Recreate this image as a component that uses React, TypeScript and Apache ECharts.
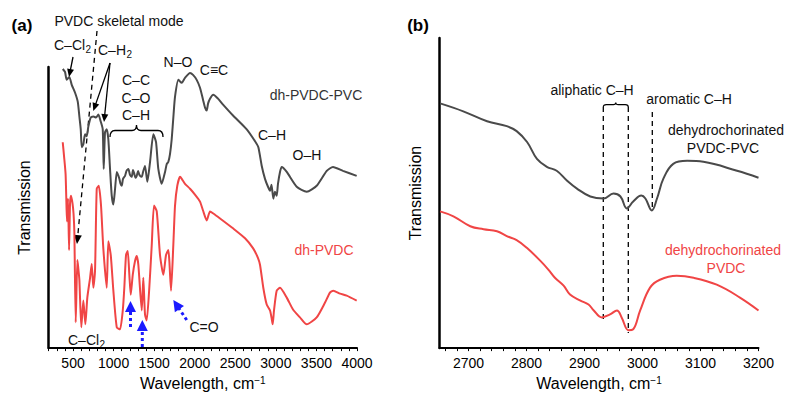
import React, { useEffect, useRef } from 'react';
import * as echarts from 'echarts';

const FONT = '"Liberation Sans", Arial, Helvetica, sans-serif';
const GRAY = '#4a4a4a';
const RED = '#f04545';
const BLUE = '#1a1aff';

// ---------- Panel (a): full spectrum ----------
const waveA_pvc = [373, 401, 422, 454, 484, 525, 558, 578, 595, 607, 627, 648, 669, 689, 718, 750, 783, 812, 841, 866, 878, 894, 915, 935, 956, 977, 997, 1018, 1039, 1055, 1071, 1085, 1100, 1116, 1141, 1159, 1182, 1202, 1223, 1239, 1252, 1270, 1285, 1301, 1313, 1326, 1347, 1363, 1387, 1416, 1449, 1490, 1523, 1551, 1593, 1634, 1655, 1674, 1695, 1716, 1739, 1757, 1798, 1840, 1880, 1942, 1979, 2024, 2065, 2102, 2127, 2148, 2164, 2188, 2229, 2287, 2349, 2472, 2641, 2743, 2784, 2826, 2866, 2903, 2928, 2946, 2969, 2989, 3010, 3026, 3051, 3072, 3134, 3257, 3380, 3503, 3627, 3704, 3827, 3996];
const transA_pvc = [282, 279, 271, 274, 266, 258, 249, 234, 221, 203, 206, 216, 214, 224, 233, 234, 233, 236, 229, 221, 181, 218, 221, 211, 181, 154, 145, 161, 178, 175, 171, 166, 164, 171, 174, 179, 181, 175, 173, 180, 177, 172, 174, 179, 176, 174, 173, 178, 184, 168, 188, 216, 208, 181, 166, 178, 186, 188, 196, 211, 236, 254, 271, 268, 273, 278, 276, 271, 263, 251, 243, 240, 247, 252, 256, 252, 246, 235, 221, 209, 203, 184, 171, 163, 159, 165, 151, 158, 154, 166, 178, 183, 178, 163, 158, 164, 179, 183, 179, 174];

const waveA_pvdc = [373, 389, 408, 420, 426, 438, 451, 463, 475, 494, 506, 516, 533, 553, 562, 578, 602, 627, 652, 676, 710, 730, 750, 771, 792, 817, 845, 873, 915, 935, 965, 997, 1039, 1079, 1113, 1132, 1153, 1174, 1194, 1211, 1236, 1264, 1285, 1305, 1347, 1366, 1387, 1408, 1440, 1470, 1498, 1532, 1572, 1613, 1646, 1674, 1687, 1708, 1736, 1757, 1785, 1819, 1840, 1880, 1942, 2003, 2065, 2102, 2148, 2188, 2229, 2312, 2472, 2620, 2718, 2780, 2805, 2845, 2887, 2928, 2946, 2961, 2977, 3010, 3051, 3134, 3211, 3297, 3380, 3503, 3606, 3667, 3708, 3791, 3873, 3996];
const transA_pvdc = [208, 194, 176, 141, 128, 151, 99, 146, 154, 146, 136, 118, 26, 89, 83, 69, 21, 48, 24, 51, 71, 85, 61, 78, 161, 164, 144, 101, 61, 108, 94, 58, 21, 19, 38, 61, 94, 98, 74, 54, 74, 88, 93, 84, 38, 71, 34, 28, 61, 104, 144, 138, 94, 74, 94, 99, 88, 58, 104, 144, 164, 173, 171, 166, 161, 155, 148, 139, 129, 138, 136, 131, 121, 111, 101, 91, 84, 61, 44, 38, 31, 24, 38, 58, 61, 51, 39, 31, 24, 31, 46, 56, 58, 55, 53, 48];

const labelsA = [500, 1000, 1500, 2000, 2500, 3000, 3500, 4000];
const minorA = [200, 300, 400, 500, 600, 700, 800, 900, 1000, 1100, 1200, 1300, 1400, 1500, 1600, 1700, 1800, 1900, 2000, 2100, 2200, 2300, 2400, 2500, 2600, 2700, 2800, 2900, 3000, 3100, 3200, 3300, 3400, 3500, 3600, 3700, 3800, 3900, 4000];

// ---------- Panel (b): C-H stretching region ----------
const waveB_pvc = [2651, 2691, 2732, 2766, 2783, 2801, 2818, 2835, 2852, 2870, 2887, 2910, 2933, 2950, 2962, 2973, 2984, 2998, 3005, 3016, 3025, 3036, 3053, 3077, 3105, 3163, 3200];
const transB_pvc = [247, 239, 229, 224, 219, 208, 191, 183, 179, 169, 161, 153, 151, 156, 153, 141, 148, 154, 151, 139, 151, 171, 186, 189, 188, 179, 172];

const waveB_pvdc = [2651, 2674, 2703, 2726, 2749, 2766, 2783, 2801, 2824, 2838, 2849, 2864, 2875, 2893, 2907, 2916, 2930, 2944, 2956, 2964, 2976, 2984, 2996, 3013, 3030, 3059, 3088, 3128, 3168, 3200];
const transB_pvdc = [138, 133, 123, 120, 118, 113, 109, 101, 88, 79, 71, 63, 54, 48, 44, 38, 31, 34, 38, 31, 18, 19, 38, 61, 69, 73, 71, 64, 51, 38];

const labelsB = [2700, 2800, 2900, 3000, 3100, 3200];
const minorB = [2660, 2680, 2700, 2720, 2740, 2760, 2780, 2800, 2820, 2840, 2860, 2880, 2900, 2920, 2940, 2960, 2980, 3000, 3020, 3040, 3060, 3080, 3100, 3120, 3140, 3160, 3180, 3200];

// brace shapes for annotations
echarts.graphic.registerShape(
  'braceA',
  echarts.graphic.extendPath('M0,12 Q0,5.5 5,5.5 L22,5.5 Q26.5,5.5 26.5,0 Q26.5,5.5 31,5.5 L48,5.5 Q53,5.5 53,12', {})
);
echarts.graphic.registerShape(
  'braceB',
  echarts.graphic.extendPath('M0,4.5 Q0,2.2 3,2.2 L10,2.2 Q12.5,2.2 12.5,0 Q12.5,2.2 15,2.2 L22,2.2 Q25,2.2 25,4.5', {})
);

function txt(text: string, x: number, y: number, extra: any = {}) {
  return {
    type: 'text',
    x,
    y,
    silent: true,
    style: {
      text,
      fontSize: 14,
      fontFamily: FONT,
      fill: '#111',
      align: 'center',
      verticalAlign: 'middle',
      ...extra,
    },
  };
}

function arrow(fx: number, fy: number, tx: number, ty: number, o: any) {
  const dx = tx - fx;
  const dy = ty - fy;
  const d = Math.hypot(dx, dy);
  const ux = dx / d;
  const uy = dy / d;
  const bx = tx - ux * o.len;
  const by = ty - uy * o.len;
  const nx = -uy;
  const ny = ux;
  return [
    {
      type: 'line',
      silent: true,
      shape: { x1: fx, y1: fy, x2: bx + ux * 1, y2: by + uy * 1 },
      style: { stroke: o.color, lineWidth: o.lw, lineDash: o.dash || null },
    },
    {
      type: 'polygon',
      silent: true,
      shape: {
        points: [
          [tx, ty],
          [bx + (nx * o.w) / 2, by + (ny * o.w) / 2],
          [bx - (nx * o.w) / 2, by - (ny * o.w) / 2],
        ],
      },
      style: { fill: o.color },
    },
  ];
}

function vdash(x: number, y1: number, y2: number) {
  return {
    type: 'line',
    silent: true,
    shape: { x1: x, y1, x2: x, y2 },
    style: { stroke: '#000', lineWidth: 1.3, lineDash: [5, 4] },
  };
}

const blk = { color: '#000', lw: 1.3, len: 8, w: 7 };
const blu = { color: BLUE, lw: 3, len: 11, w: 11, dash: [3, 3] };

const graphics: any[] = [
  // panel letters
  txt('(a)', 22, 25, { fontSize: 17, fontWeight: 'bold', fill: '#000' }),
  txt('(b)', 418, 25, { fontSize: 17, fontWeight: 'bold', fill: '#000' }),
  // panel (a) annotations
  txt('PVDC skeletal mode', 119, 21),
  ...arrow(97, 31, 77, 244, { ...blk, dash: [5, 4], len: 9, w: 8 }),
  txt('C–Cl', 54, 45, { align: 'left' }),
  txt('2', 85.5, 49, { align: 'left', fontSize: 10 }),
  ...arrow(73, 57, 69, 77, blk),
  txt('C–H', 98, 50, { align: 'left' }),
  txt('2', 126.5, 54, { align: 'left', fontSize: 10 }),
  ...arrow(110, 63, 93.3, 111, blk),
  ...arrow(110, 63, 104, 122, blk),
  txt('C–C', 136, 80),
  txt('C–O', 136, 98),
  txt('C–H', 136, 115),
  { type: 'braceA', x: 110, y: 125, silent: true, style: { stroke: '#000', lineWidth: 1.3, fill: null } },
  txt('N–O', 178, 62),
  txt('C≡C', 214, 70),
  txt('dh-PVDC-PVC', 316, 95, { fill: '#333' }),
  txt('C–H', 272, 135),
  txt('O–H', 307, 155),
  txt('dh-PVDC', 324, 250, { fill: RED }),
  txt('C–Cl', 68, 340, { align: 'left' }),
  txt('2', 99.5, 344, { align: 'left', fontSize: 10 }),
  ...arrow(130.5, 327, 130.5, 301, blu),
  ...arrow(142.3, 347, 142.3, 320, blu),
  ...arrow(186.7, 320, 173.3, 300, blu),
  txt('C=O', 204, 327),
  // panel (b) annotations
  txt('aliphatic C–H', 592, 90),
  txt('aromatic C–H', 689, 99),
  { type: 'braceB', x: 603.3, y: 102.5, silent: true, style: { stroke: '#000', lineWidth: 1.2, fill: null } },
  vdash(603.3, 107, 320),
  vdash(628.3, 107, 333),
  vdash(652.3, 112, 211),
  txt('dehydrochorinated', 784, 130, { align: 'right' }),
  txt('PVDC-PVC', 723, 148),
  txt('dehydrochorinated', 723, 250, { fill: RED }),
  txt('PVDC', 726, 268, { fill: RED }),
];

const axisName = {
  fontSize: 16,
  color: '#000',
  fontFamily: FONT,
  rich: { sup: { fontSize: 10, verticalAlign: 'top', color: '#000', fontFamily: FONT } },
};

function xAxisCfg(gridIndex: number, min: number, max: number, labels: number[], minor: number[]) {
  return {
    gridIndex,
    type: 'value',
    min,
    max,
    name: 'Wavelength, cm{sup|−1}',
    nameLocation: 'middle',
    nameGap: 26,
    nameTextStyle: axisName,
    axisLine: { onZero: false, lineStyle: { color: '#000', width: 2 } },
    axisTick: { show: true, customValues: minor, length: 3, lineStyle: { color: '#000', width: 1 } },
    axisLabel: {
      customValues: labels,
      fontSize: 14,
      color: '#000',
      margin: 8,
      fontFamily: FONT,
      formatter: (v: number) => String(v),
    },
    splitLine: { show: false },
  };
}

function yAxisCfg(gridIndex: number, max: number) {
  return {
    gridIndex,
    type: 'value',
    min: 0,
    max,
    name: 'Transmission',
    nameLocation: 'middle',
    nameGap: 16,
    nameRotate: 90,
    nameTextStyle: { fontSize: 16, color: '#000', fontFamily: FONT },
    axisLine: { show: true, onZero: false, lineStyle: { color: '#000', width: 2.5 } },
    axisTick: { show: false },
    axisLabel: { show: false },
    splitLine: { show: false },
  };
}

function lineSeries(xi: number, wave: number[], vals: number[], color: string, smooth: number) {
  return {
    type: 'line',
    xAxisIndex: xi,
    yAxisIndex: xi,
    data: wave.map((w, i) => [w, vals[i]]),
    showSymbol: false,
    smooth,
    lineStyle: { color, width: 2 },
    itemStyle: { color },
    silent: true,
  };
}

const option: any = {
  animation: false,
  textStyle: { fontFamily: FONT },
  grid: [
    { left: 48.7, top: 67, width: 308.3, height: 284 },
    { left: 439.5, top: 38, width: 319, height: 313 },
  ],
  xAxis: [xAxisCfg(0, 200, 4000, labelsA, minorA), xAxisCfg(1, 2650, 3200, labelsB, minorB)],
  yAxis: [yAxisCfg(0, 284), yAxisCfg(1, 313)],
  series: [
    lineSeries(0, waveA_pvc, transA_pvc, GRAY, 0.2),
    lineSeries(0, waveA_pvdc, transA_pvdc, RED, 0.2),
    lineSeries(1, waveB_pvc, transB_pvc, GRAY, 0.4),
    lineSeries(1, waveB_pvdc, transB_pvdc, RED, 0.4),
  ],
  graphic: graphics,
};

export default function App() {
  const ref = useRef<HTMLDivElement>(null);
  useEffect(() => {
    const chart = echarts.init(ref.current as HTMLDivElement, null, { renderer: 'svg' });
    chart.setOption(option);
    return () => chart.dispose();
  }, []);
  return (
    <div
      ref={ref}
      style={{ position: 'fixed', left: 0, top: 0, width: 785, height: 396, background: '#fff' }}
    />
  );
}
